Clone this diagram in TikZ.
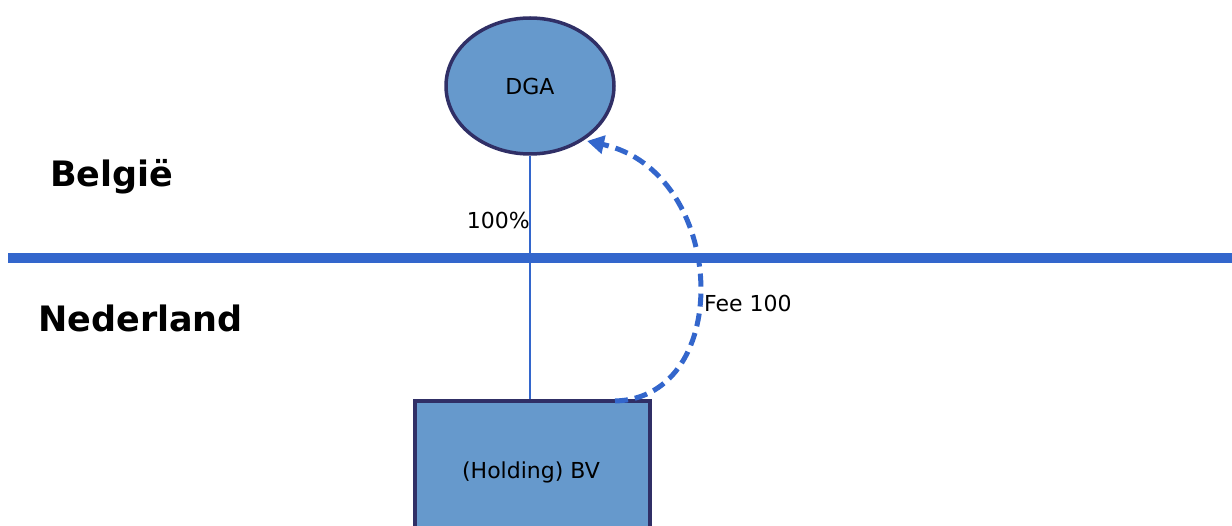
\documentclass[tikz,border=0pt]{standalone}
\usepackage{fontspec}
\setmainfont{DejaVu Sans}
\usetikzlibrary{shapes.geometric,arrows.meta}
\definecolor{lineblue}{HTML}{3366CC}
\definecolor{fillblue}{HTML}{6699CC}
\definecolor{navy}{HTML}{302F66}
\tikzset{
  entity/.style={draw=navy, line width=3.5pt, fill=fillblue, inner sep=0pt},
  small/.style={font=\fontsize{22}{26}\selectfont, inner sep=0pt},
  country/.style={font=\fontsize{35}{40}\selectfont\bfseries, inner sep=0pt, anchor=base west},
  fee/.style={draw=lineblue, line width=5pt, dash pattern=on 13pt off 7pt,
    -{Triangle[length=17pt,width=18pt]}}
}
\begin{document}
\begin{tikzpicture}[x=1pt,y=-1pt]
\useasboundingbox (0,0) rectangle (1232,526);
% border line
\coordinate (lineL) at (8,258.5);
\coordinate (lineR) at (1240,258.5);
\draw[lineblue, line width=10pt] (lineL) -- (lineR);
% entities
\node[entity, ellipse, minimum width=168pt, minimum height=136pt, font=\fontsize{22}{26}\selectfont] (dga) at (530,86) {DGA};
\node[entity, rectangle, minimum width=235pt, minimum height=140pt] (bv) at (532.5,471) {};
\node[small, anchor=base] (bvtext) at (531,478.3) {(Holding) BV};
% ownership line
\draw[lineblue, line width=2.2pt] (dga.south) -- (dga.south |- bv.north);
% fee arrow
\coordinate (feeStart) at (615,401);
\coordinate (feeEnd) at (587,141);
\draw[fee] (feeStart) .. controls (735,398) and (728,172) .. (feeEnd);
% labels
\node[small, anchor=base west] (pct) at (466.7,228.3) {100\%};
\node[small, anchor=base west] (feelabel) at (704,311.7) {Fee 100};
\node[country] (be) at (50,187) {België};
\node[country] (nl) at (38,332) {Nederland};
\end{tikzpicture}
\end{document}
